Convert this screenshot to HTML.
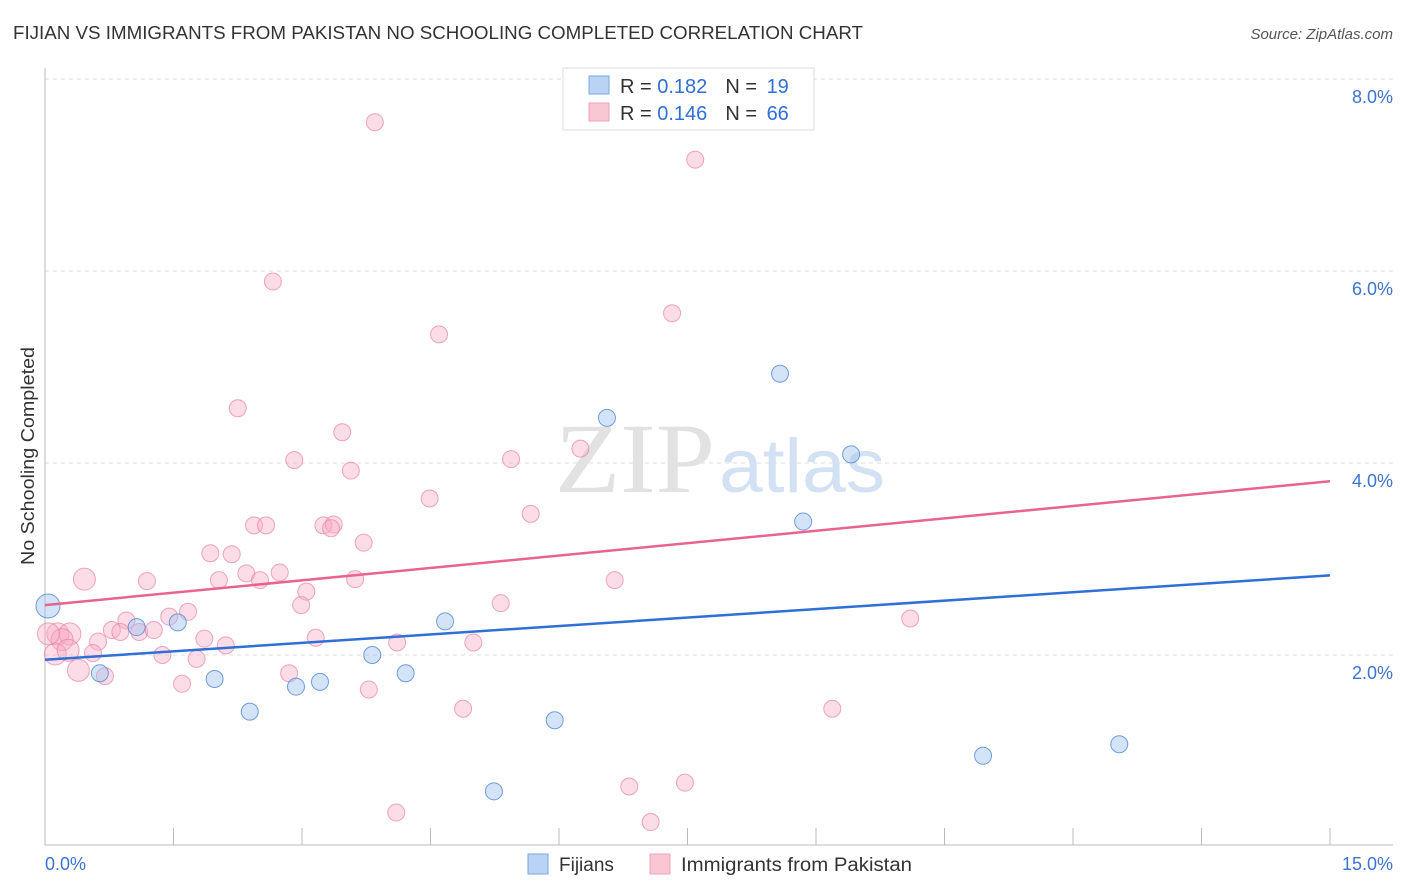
<!DOCTYPE html>
<html><head><meta charset="utf-8"><style>
body{margin:0;background:#fff;font-family:"Liberation Sans",sans-serif;}
svg{display:block}
</style></head><body>
<svg id="c" width="1406" height="892">
<text x="13" y="39" font-size="18" fill="#333" textLength="850" lengthAdjust="spacingAndGlyphs">FIJIAN VS IMMIGRANTS FROM PAKISTAN NO SCHOOLING COMPLETED CORRELATION CHART</text>
<text x="1393" y="39" font-size="15" fill="#555" font-style="italic" text-anchor="end">Source: ZipAtlas.com</text>
<text x="34" y="456" font-size="18" fill="#333" text-anchor="middle" textLength="218" lengthAdjust="spacingAndGlyphs" transform="rotate(-90 34 456)">No Schooling Completed</text>
<g id="grid"></g>
<g id="wm"><text x="635" y="492" font-size="100" fill="#e2e2e2" font-family="Liberation Serif,serif" text-anchor="middle" textLength="160" lengthAdjust="spacingAndGlyphs">ZIP</text><text x="802" y="492" font-size="76" fill="#d3e1f4" text-anchor="middle" textLength="166" lengthAdjust="spacingAndGlyphs">atlas</text></g>
<g id="pts"></g>
<g id="lines"></g>
<g>
<rect x="563" y="68" width="251" height="62" fill="#fff" stroke="#ddd"/>
<rect x="589" y="76" width="20" height="18" fill="#b9d3f5" stroke="#7aa7e0"/>
<rect x="589" y="103" width="20" height="18" fill="#f9c6d4" stroke="#eda0b8"/>
<text x="620" y="93" font-size="20" fill="#333">R = <tspan fill="#2f6fd6">0.182</tspan><tspan dx="18">N = </tspan><tspan fill="#2f6fd6" dx="4">19</tspan></text>
<text x="620" y="120" font-size="20" fill="#333">R = <tspan fill="#2f6fd6">0.146</tspan><tspan dx="18">N = </tspan><tspan fill="#2f6fd6" dx="4">66</tspan></text>
</g>
<g>
<rect x="528" y="854" width="20" height="20" fill="#b9d3f5" stroke="#7aa7e0"/>
<text x="559" y="871" font-size="19" fill="#333">Fijians</text>
<rect x="650" y="854" width="20" height="20" fill="#f9c6d4" stroke="#eda0b8"/>
<text x="681" y="871" font-size="19" fill="#333" textLength="231" lengthAdjust="spacingAndGlyphs">Immigrants from Pakistan</text>
</g>
<text x="45" y="870" font-size="18" fill="#3b73d1">0.0%</text>
<text x="1393" y="870" font-size="18" fill="#3b73d1" text-anchor="end">15.0%</text>
</svg>
<script>
const yTicks=[2,4,6,8];
const yTickLabels=["2.0%","4.0%","6.0%","8.0%"];
const fijX=[0.035,0.64,1.07,1.55,1.98,2.39,2.93,3.21,3.82,4.21,4.67,5.24,5.95,6.56,8.58,8.85,9.41,10.95,12.54];
const fijY=[2.51,1.81,2.29,2.34,1.75,1.41,1.67,1.72,2.00,1.81,2.35,0.58,1.32,4.47,4.93,3.39,4.09,0.95,1.07];
const pakX=[3.85,7.59,2.66,7.32,4.60,2.25,3.47,2.91,5.44,3.57,6.25,4.49,5.67,2.44,2.58,3.25,3.37,3.34,3.72,1.93,2.18,0.46,1.19,2.03,2.35,2.51,2.74,3.62,6.65,3.05,2.99,5.32,1.67,1.45,0.95,0.78,0.88,1.10,1.27,10.10,0.15,0.29,0.20,0.62,1.86,2.11,3.16,4.11,5.00,0.56,0.12,1.37,1.77,0.39,0.70,2.85,1.60,3.78,4.88,9.19,6.82,7.47,4.10,7.07,0.04,0.27];
const pakY=[7.55,7.16,5.89,5.56,5.34,4.57,4.32,4.03,4.04,3.92,4.15,3.63,3.47,3.35,3.35,3.35,3.36,3.32,3.17,3.06,3.05,2.79,2.77,2.78,2.85,2.78,2.86,2.79,2.78,2.66,2.52,2.54,2.45,2.40,2.36,2.26,2.24,2.24,2.26,2.38,2.22,2.22,2.16,2.14,2.17,2.10,2.18,2.13,2.13,2.02,2.01,2.00,1.96,1.84,1.78,1.81,1.70,1.64,1.44,1.44,0.63,0.67,0.36,0.26,2.22,2.05];
const fijTrend=[1.95,2.83];
const pakTrend=[2.52,3.81];
const X=v=>45+v/15*1285, Y=v=>847-v*96;
const NS="http://www.w3.org/2000/svg";
function mk(t,a,p){const e=document.createElementNS(NS,t);for(const k in a)e.setAttribute(k,a[k]);p.appendChild(e);return e;}
const g=document.getElementById('grid');
yTicks.forEach((t,i)=>{
 const l=mk('line',{x1:45,x2:1393,y1:Y(t),y2:Y(t),stroke:'#ddd','stroke-dasharray':'4,4'},g);
 
 
 const tx=mk('text',{x:1393,y:Y(t)+24,'font-size':18,fill:'#3b73d1','text-anchor':'end'},g);
 tx.textContent=yTickLabels[i];
 
 
});
const ax=mk('line',{x1:45,x2:45,y1:68,y2:845,stroke:'#bbb'},g);


const bx=mk('line',{x1:45,x2:1393,y1:845,y2:845,stroke:'#bbb'},g);


for(let i=1;i<=10;i++){
 const tk=mk('line',{x1:X(i*1.5),x2:X(i*1.5),y1:828,y2:845,stroke:'#bbb'},g);
 
 
}
const p=document.getElementById('pts');
pakX.forEach((x,i)=>{
 const c=mk('circle',{cx:X(x),cy:Y(pakY[i]),r:x<0.5?11:8.5,fill:'rgba(247,170,195,0.4)',stroke:'rgba(232,130,165,0.7)','stroke-width':1},p);
 
 
});
fijX.forEach((x,i)=>{
 const c=mk('circle',{cx:X(x),cy:Y(fijY[i]),r:i==0?12:8.5,fill:'rgba(160,195,240,0.45)',stroke:'rgba(80,135,215,0.8)','stroke-width':1},p);
 
 
});
const L=document.getElementById('lines');
const lp=mk('line',{x1:X(0),x2:X(15),y1:Y(pakTrend[0]),y2:Y(pakTrend[1]),stroke:'#e8648f','stroke-width':2.5},L);


const lf=mk('line',{x1:X(0),x2:X(15),y1:Y(fijTrend[0]),y2:Y(fijTrend[1]),stroke:'#2f6fd6','stroke-width':2.5},L);


</script>
</body></html>
